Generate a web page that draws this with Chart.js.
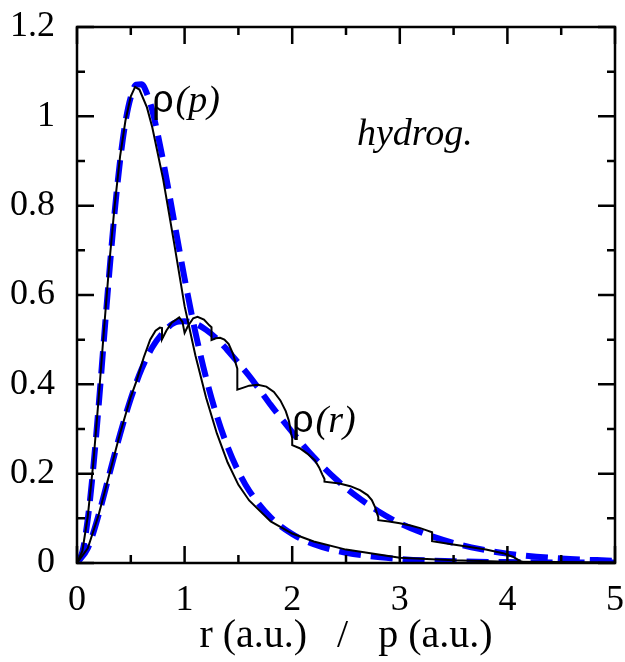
<!DOCTYPE html>
<html>
<head>
<meta charset="utf-8">
<script src="https://cdn.jsdelivr.net/npm/chart.js@4/dist/chart.umd.min.js"></script>
<style>
  html, body { margin: 0; padding: 0; background: #fff; }
  #wrap { width: 625px; height: 662px; }
</style>
</head>
<body>
<div id="wrap"><canvas id="densityChart"></canvas></div>
<script>
        // axis ticks
        const xMajor = [0, 1, 2, 3, 4, 5];
        const xMinor = [0.5, 1.5, 2.5, 3.5, 4.5];
        const yMajor = [0, 0.2, 0.4, 0.6, 0.8, 1.0, 1.2];
        const yMinor = [0.1, 0.3, 0.5, 0.7, 0.9, 1.1];
        const yLabels = ['0', '0.2', '0.4', '0.6', '0.8', '1', '1.2'];

        // rho(r), exact (blue dashed)
        const rExactX = [0, 0.1, 0.2, 0.3, 0.4, 0.5, 0.6, 0.7, 0.8, 0.9, 1.0, 1.1, 1.2, 1.3, 1.4, 1.5, 1.6, 1.7, 1.8, 1.9, 2.0, 2.2, 2.4, 2.6, 2.8, 3.0, 3.25, 3.5, 3.75, 4.0, 4.5, 5.0];
        const rExactY = [0, 0.033, 0.107, 0.198, 0.288, 0.368, 0.434, 0.483, 0.516, 0.537, 0.541, 0.536, 0.522, 0.502, 0.476, 0.448, 0.419, 0.387, 0.354, 0.323, 0.293, 0.237, 0.189, 0.149, 0.116, 0.089, 0.064, 0.045, 0.031, 0.021, 0.010, 0.005];

        // rho(r), model (black, with steps)
        const rModelX = [0, 0.1, 0.2, 0.3, 0.4, 0.5, 0.555, 0.62, 0.68, 0.73, 0.77, 0.79, 0.79, 0.83, 0.88, 0.95, 0.98, 1.0, 1.03, 1.08, 1.12, 1.18, 1.23, 1.25, 1.25, 1.29, 1.33, 1.37, 1.41, 1.45, 1.475, 1.49, 1.49, 1.54, 1.6, 1.68, 1.76, 1.83, 1.89, 1.94, 1.97, 1.99, 2.0, 2.0, 2.07, 2.14, 2.21, 2.25, 2.28, 2.3, 2.3, 2.44, 2.54, 2.63, 2.7, 2.74, 2.77, 2.79, 2.8, 2.8, 2.9, 3.0, 3.1, 3.19, 3.25, 3.3, 3.3, 3.45, 3.65, 3.8, 3.96, 4.05, 4.12, 4.17, 4.5, 5.0];
        const rModelY = [0, 0.033, 0.107, 0.198, 0.29, 0.372, 0.409, 0.46, 0.5, 0.52, 0.527, 0.526, 0.501, 0.52, 0.538, 0.55, 0.54, 0.515, 0.53, 0.548, 0.551, 0.545, 0.532, 0.528, 0.499, 0.503, 0.504, 0.5, 0.49, 0.468, 0.447, 0.435, 0.388, 0.392, 0.397, 0.399, 0.395, 0.383, 0.364, 0.34, 0.318, 0.29, 0.28, 0.264, 0.257, 0.245, 0.23, 0.214, 0.198, 0.188, 0.182, 0.178, 0.172, 0.163, 0.152, 0.141, 0.125, 0.11, 0.103, 0.096, 0.093, 0.089, 0.084, 0.078, 0.073, 0.069, 0.049, 0.043, 0.036, 0.03, 0.022, 0.014, 0.004, 0, 0, 0];

        // rho(p), exact (blue dashed)
        const pExactX = [0, 0.05, 0.1, 0.15, 0.2, 0.25, 0.3, 0.35, 0.4, 0.45, 0.5, 0.55, 0.6, 0.65, 0.7, 0.8, 0.9, 1.0, 1.1, 1.2, 1.3, 1.4, 1.5, 1.6, 1.8, 2.0, 2.2, 2.5, 3.0, 3.5, 4.0, 5.0];
        const pExactY = [0, 0.025, 0.098, 0.21, 0.348, 0.5, 0.649, 0.786, 0.9, 0.987, 1.043, 1.071, 1.072, 1.051, 1.013, 0.901, 0.769, 0.637, 0.517, 0.414, 0.329, 0.26, 0.205, 0.162, 0.102, 0.065, 0.042, 0.023, 0.009, 0.004, 0.002, 0.001];

        // rho(p), model (black)
        const pModelX = [0, 0.05, 0.1, 0.15, 0.2, 0.25, 0.3, 0.35, 0.4, 0.45, 0.5, 0.54, 0.58, 0.65, 0.7, 0.8, 0.9, 1.0, 1.1, 1.2, 1.3, 1.4, 1.5, 1.6, 1.8, 2.0, 2.2, 2.5, 3.0, 3.5, 4.0, 4.5, 5.0];
        const pModelY = [0, 0.027, 0.104, 0.22, 0.365, 0.52, 0.67, 0.8, 0.91, 0.99, 1.045, 1.066, 1.06, 1.02, 0.975, 0.86, 0.72, 0.575, 0.465, 0.37, 0.29, 0.225, 0.175, 0.14, 0.093, 0.066, 0.048, 0.03, 0.012, 0.006, 0.003, 0.002, 0.001];

        const toPoints = (xs, ys) => xs.map((v, i) => ({ x: v, y: ys[i] }));

        const serif = "'Liberation Serif', 'Times New Roman', serif";

        // frame, inward ticks and the text labels inside the plot
        const framePlugin = {
            id: 'frameTicks',
            afterDraw(c) {
                const ctx = c.ctx;
                const a = c.chartArea;
                const x = c.scales.x, y = c.scales.y;
                const big = 17, small = 8;
                ctx.save();
                ctx.strokeStyle = '#000';
                ctx.lineWidth = 2.5;
                ctx.lineCap = 'butt';
                ctx.beginPath();
                xMajor.concat(xMinor).forEach(v => {
                    const len = xMajor.includes(v) ? big : small;
                    const px = x.getPixelForValue(v);
                    ctx.moveTo(px, a.bottom); ctx.lineTo(px, a.bottom - len);
                    ctx.moveTo(px, a.top); ctx.lineTo(px, a.top + len);
                });
                yMajor.concat(yMinor).forEach(v => {
                    const len = yMajor.includes(v) ? big : small;
                    const py = y.getPixelForValue(v);
                    ctx.moveTo(a.left, py); ctx.lineTo(a.left + len, py);
                    ctx.moveTo(a.right, py); ctx.lineTo(a.right - len, py);
                });
                ctx.stroke();
                ctx.strokeRect(a.left, a.top, a.right - a.left, a.bottom - a.top);

                // labels
                ctx.fillStyle = '#000';
                ctx.textBaseline = 'alphabetic';
                ctx.textAlign = 'left';
                const rhoLabel = (px, py, arg) => {
                    ctx.font = "38px 'Liberation Sans', Arial, sans-serif";
                    ctx.fillText('ρ', px, py);
                    const w = ctx.measureText('ρ').width;
                    ctx.font = 'italic 38px ' + serif;
                    ctx.fillText('(' + arg + ')', px + w + 2, py);
                };
                rhoLabel(152, 112, 'p');
                rhoLabel(292, 432, 'r');
                ctx.font = 'italic 38px ' + serif;
                ctx.fillText('hydrog.', 357, 145);
                ctx.restore();
            }
        };

        const chart = new Chart(document.getElementById('densityChart'), {
            type: 'line',
            data: {
                datasets: [
                    { data: toPoints(pModelX, pModelY), borderColor: '#000', borderWidth: 2, tension: 0, order: 0 },
                    { data: toPoints(rModelX, rModelY), borderColor: '#000', borderWidth: 2, tension: 0, order: 0 },
                    { data: toPoints(pExactX, pExactY), borderColor: '#0000ff', borderWidth: 6, borderDash: [22, 10], cubicInterpolationMode: 'monotone', order: 1 },
                    { data: toPoints(rExactX, rExactY), borderColor: '#0000ff', borderWidth: 6, borderDash: [22, 10], cubicInterpolationMode: 'monotone', order: 1 }
                ]
            },
            options: {
                responsive: true,
                maintainAspectRatio: false,
                animation: false,
                layout: { padding: { top: 27, right: 10, bottom: 0, left: 0 } },
                elements: { point: { radius: 0 }, line: { borderCapStyle: 'butt' } },
                plugins: { legend: { display: false }, tooltip: { enabled: false } },
                scales: {
                    x: {
                        type: 'linear', min: 0, max: 5,
                        grid: { display: false, drawTicks: false },
                        border: { display: false },
                        ticks: { stepSize: 1, padding: 16, color: '#000', font: { family: serif, size: 36 }, maxRotation: 0 },
                        title: { display: true, text: 'r (a.u.)   /   p (a.u.)', color: '#000', font: { family: serif, size: 40 }, padding: { top: 0, bottom: 2 } },
                        afterFit(s) { s.height = 99; s.paddingLeft = 0; s.paddingRight = 0; }
                    },
                    y: {
                        min: 0, max: 1.2,
                        grid: { display: false, drawTicks: false },
                        border: { display: false },
                        ticks: {
                            stepSize: 0.2, padding: 22, color: '#000', font: { family: serif, size: 36 },
                            callback: (v) => {
                                const i = yMajor.findIndex(t => Math.abs(t - v) < 1e-6);
                                return i >= 0 ? yLabels[i] : '';
                            }
                        },
                        afterFit(s) { s.width = 77; s.paddingTop = 0; s.paddingBottom = 0; }
                    }
                }
            },
            plugins: [framePlugin]
        });
</script>
</body>
</html>
